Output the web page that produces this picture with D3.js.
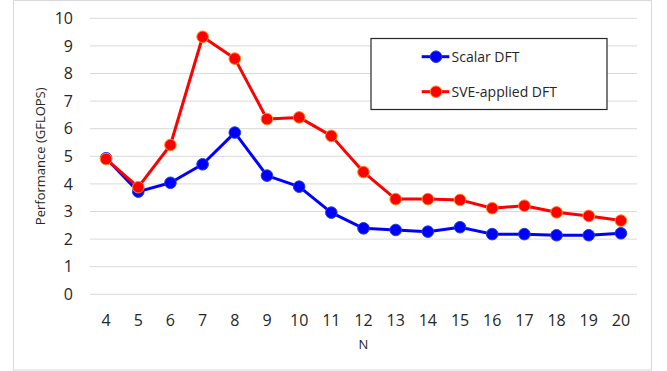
<!DOCTYPE html>
<html>
<head>
<meta charset="utf-8">
<script src="https://cdn.jsdelivr.net/npm/d3@7"></script>
<style>
  html, body { margin: 0; padding: 0; background: #fff; }
  svg { display: block; font-family: "Open Sans", "Liberation Sans", sans-serif; }
</style>
</head>
<body>
<svg id="chart" width="667" height="371"></svg>
<script>
// Problem sizes on the x axis
const categories = [4, 5, 6, 7, 8, 9, 10, 11, 12, 13, 14, 15, 16, 17, 18, 19, 20];
// Measured performance in GFLOPS
const scalarDFT = [4.93, 3.72, 4.04, 4.71, 5.86, 4.30, 3.90, 2.96, 2.39, 2.33, 2.27, 2.43, 2.18, 2.18, 2.14, 2.14, 2.21];
const sveDFT    = [4.90, 3.88, 5.41, 9.33, 8.54, 6.35, 6.41, 5.74, 4.43, 3.45, 3.45, 3.42, 3.12, 3.21, 2.97, 2.84, 2.67];
const yTicks = [0, 1, 2, 3, 4, 5, 6, 7, 8, 9, 10];
const seriesNames = ["Scalar DFT", "SVE-applied DFT"];

const svg = d3.select("#chart");
const plot = { left: 90, right: 637, top: 18.3, bottom: 294.3 };

// Outer chart frame
svg.append("rect")
  .attr("x", 13.5).attr("y", 0.5)
  .attr("width", 638).attr("height", 369.5)
  .attr("fill", "#fff").attr("stroke", "#d9d9d9").attr("stroke-width", 1);

const x = d3.scaleBand().domain(categories).range([plot.left, plot.right]);
const y = d3.scaleLinear().domain([0, 10]).range([plot.bottom, plot.top]);

// Horizontal gridlines
svg.append("g")
  .selectAll("line").data(yTicks).join("line")
  .attr("x1", plot.left).attr("x2", plot.right)
  .attr("y1", d => y(d)).attr("y2", d => y(d))
  .attr("stroke", "#d9d9d9").attr("stroke-width", 1);

// Y axis labels
const yAxis = d3.axisLeft(y).tickValues(yTicks).tickSize(0).tickPadding(0).tickFormat(d3.format("d"));
const gy = svg.append("g").attr("transform", `translate(${plot.left - 17},0)`).call(yAxis);
gy.select(".domain").remove();
gy.selectAll("text").attr("font-size", 16).attr("fill", "#262626")
  .attr("font-family", "Open Sans, sans-serif");

// X axis labels
const xAxis = d3.axisBottom(x).tickSize(0).tickPadding(0);
const gx = svg.append("g").attr("transform", `translate(0,${plot.bottom + 20.5})`).call(xAxis);
gx.select(".domain").remove();
gx.selectAll("text").attr("font-size", 16).attr("fill", "#262626")
  .attr("font-family", "Open Sans, sans-serif");

// Axis titles
svg.append("text")
  .attr("x", x(12) + x.bandwidth() / 2).attr("y", 349)
  .attr("text-anchor", "middle").attr("font-size", 13).attr("fill", "#262626")
  .text("N");
svg.append("text")
  .attr("transform", `translate(45,${(plot.top + plot.bottom) / 2}) rotate(-90)`)
  .attr("text-anchor", "middle").attr("font-size", 13).attr("fill", "#262626")
  .text("Performance (GFLOPS)");

const cx = (d, i) => x(categories[i]) + x.bandwidth() / 2;
const line = d3.line().x(cx).y(d => y(d));

const series = [
  { name: seriesNames[0], values: scalarDFT, color: "#0000ff", outline: "#1f3fd0" },
  { name: seriesNames[1], values: sveDFT, color: "#ff0000", outline: "#ff8a1a" }
];

series.forEach(s => {
  const g = svg.append("g");
  g.append("path").datum(s.values)
    .attr("d", line).attr("fill", "none")
    .attr("stroke", s.color).attr("stroke-width", 3).attr("stroke-linejoin", "round");
  g.selectAll("circle").data(s.values).join("circle")
    .attr("cx", cx).attr("cy", d => y(d)).attr("r", 5.8)
    .attr("fill", s.color).attr("stroke", s.outline).attr("stroke-width", 1);
});

// Legend
const lg = svg.append("g");
lg.append("rect")
  .attr("x", 371).attr("y", 38.5).attr("width", 236).attr("height", 71)
  .attr("fill", "#fff").attr("stroke", "#262626").attr("stroke-width", 1.2);
series.forEach((s, i) => {
  const ly = 56.7 + i * 35;
  lg.append("line").attr("x1", 421.7).attr("x2", 449.3).attr("y1", ly).attr("y2", ly)
    .attr("stroke", s.color).attr("stroke-width", 3);
  lg.append("circle").attr("cx", 436).attr("cy", ly).attr("r", 5.8)
    .attr("fill", s.color).attr("stroke", s.outline).attr("stroke-width", 1);
  lg.append("text").attr("x", 451.5).attr("y", ly).attr("dy", "0.35em")
    .attr("font-size", 14).attr("fill", "#262626").text(s.name);
});
</script>
</body>
</html>
